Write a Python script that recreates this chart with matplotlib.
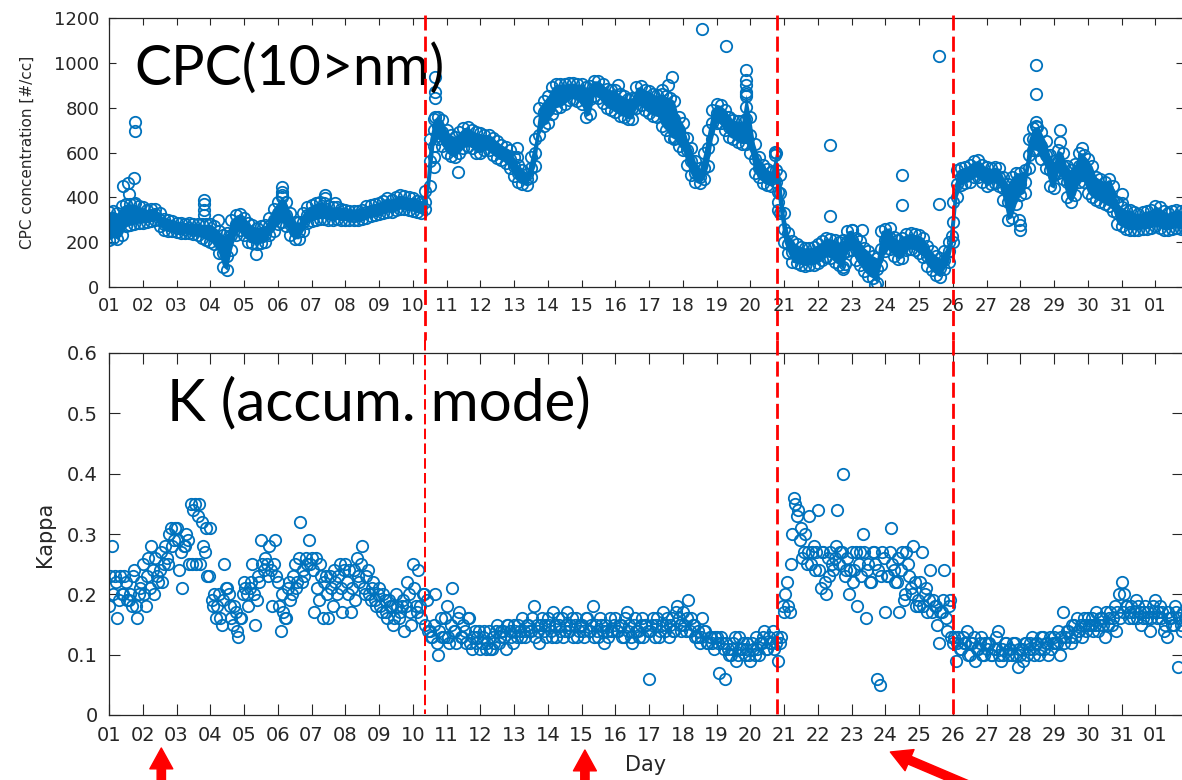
import numpy as np
import matplotlib.pyplot as plt
from matplotlib.lines import Line2D
from matplotlib.transforms import blended_transform_factory

# ---------------------------------------------------------
# CPC concentration band, read every 3 h (8 readings per day, day 1 .. day 32)
# low / middle / high edge of the scatter band [#/cc]
# ---------------------------------------------------------
cpc_mid = [
    270, 270, 265, 290, 310, 320, 320, 320,   # 01
    320, 315, 320, 325, 300, 280, 275, 270,   # 02
    265, 262, 260, 262, 255, 255, 250, 245,   # 03
    240, 230, 200, 150, 140, 230, 280, 295,   # 04
    270, 245, 235, 225, 230, 235, 270, 300,   # 05
    330, 350, 320, 280, 250, 250, 290, 320,   # 06
    330, 340, 345, 340, 330, 325, 330, 325,   # 07
    325, 320, 318, 320, 325, 335, 340, 345,   # 08
    350, 355, 365, 360, 370, 380, 375, 370,   # 09
    370, 360, 355, 380, 560, 700, 720, 690,   # 10
    650, 630, 620, 640, 660, 670, 660, 645,   # 11
    640, 645, 645, 625, 610, 600, 590, 570,   # 12
    540, 510, 490, 480, 530, 600, 740, 780,   # 13
    790, 830, 855, 860, 865, 875, 875, 870,   # 14
    860, 830, 840, 885, 885, 865, 845, 840,   # 15
    830, 815, 805, 795, 800, 845, 855, 835,   # 16
    825, 815, 805, 790, 780, 770, 750, 700,   # 17
    670, 610, 560, 510, 490, 530, 620, 730,   # 18
    775, 770, 745, 715, 700, 690, 690, 750,   # 19
    680, 570, 530, 505, 490, 480, 520, 420,   # 20
    260, 190, 155, 145, 140, 135, 135, 140,   # 21
    145, 160, 175, 170, 160, 150, 150, 200,   # 22
    210, 170, 150, 120, 100, 90, 80, 170,     # 23
    210, 220, 180, 165, 175, 200, 205, 200,   # 24
    190, 175, 140, 115, 95, 85, 120, 160,     # 25
    290, 460, 490, 500, 510, 525, 530, 505,   # 26
    490, 495, 500, 490, 440, 380, 400, 440,   # 27
    460, 470, 590, 660, 660, 630, 590, 520,   # 28
    500, 560, 540, 470, 450, 480, 540, 530,   # 29
    500, 470, 440, 430, 420, 420, 390, 330,   # 30
    310, 300, 300, 295, 290, 295, 300, 305,   # 31
    315, 310, 295, 290, 300, 305, 300, 300,   # 01 (next month)
]
cpc_low = [
    210, 220, 215, 230, 270, 275, 280, 285,
    285, 290, 295, 300, 270, 255, 250, 250,
    245, 242, 240, 240, 235, 232, 220, 210,
    200, 190, 150, 90, 75, 165, 230, 255,
    230, 200, 195, 190, 195, 200, 230, 250,
    280, 290, 270, 230, 215, 215, 250, 285,
    295, 300, 305, 305, 300, 300, 305, 300,
    300, 300, 300, 300, 305, 310, 315, 320,
    325, 330, 335, 335, 345, 350, 350, 345,
    340, 335, 330, 350, 450, 630, 660, 630,
    600, 585, 580, 600, 620, 630, 620, 600,
    600, 610, 610, 590, 575, 565, 555, 530,
    495, 470, 460, 455, 490, 540, 680, 720,
    730, 770, 800, 805, 815, 835, 840, 830,
    815, 760, 770, 850, 845, 820, 800, 790,
    780, 765, 760, 750, 750, 800, 810, 790,
    775, 765, 760, 720, 700, 670, 660, 630,
    610, 545, 500, 470, 465, 480, 540, 660,
    730, 730, 700, 670, 660, 645, 640, 640,
    600, 510, 490, 465, 455, 450, 470, 330,
    200, 150, 110, 105, 100, 95, 100, 100,
    105, 120, 135, 130, 110, 100, 80, 160,
    165, 120, 100, 70, 50, 40, 20, 100,
    160, 170, 140, 125, 130, 165, 170, 165,
    150, 135, 95, 75, 55, 45, 80, 110,
    200, 400, 455, 465, 470, 490, 490, 470,
    450, 460, 465, 450, 390, 300, 310, 370,
    410, 420, 530, 610, 610, 570, 530, 450,
    440, 510, 480, 400, 380, 410, 470, 470,
    420, 400, 390, 380, 370, 360, 340, 280,
    270, 260, 255, 255, 255, 260, 260, 265,
    270, 265, 255, 255, 260, 265, 260, 260,
]
cpc_high = [
    335, 340, 330, 360, 370, 370, 370, 360,
    355, 345, 350, 350, 330, 305, 300, 295,
    285, 285, 282, 285, 280, 280, 280, 280,
    280, 270, 250, 230, 240, 300, 320, 325,
    310, 285, 275, 265, 270, 275, 310, 350,
    380, 400, 380, 330, 290, 290, 330, 355,
    365, 375, 380, 375, 360, 355, 355, 350,
    345, 340, 340, 340, 345, 360, 365, 370,
    375, 385, 395, 390, 400, 410, 405, 400,
    395, 385, 380, 430, 660, 750, 760, 745,
    700, 680, 670, 690, 710, 715, 700, 690,
    685, 680, 680, 665, 650, 635, 625, 610,
    580, 545, 520, 505, 580, 660, 800, 830,
    850, 890, 905, 905, 905, 910, 910, 905,
    905, 890, 895, 920, 920, 905, 885, 880,
    880, 860, 850, 840, 845, 890, 895, 880,
    875, 860, 855, 860, 850, 845, 830, 760,
    730, 665, 620, 560, 530, 600, 700, 790,
    815, 810, 790, 760, 745, 740, 740, 860,
    760, 640, 580, 545, 525, 515, 600, 500,
    330, 240, 205, 190, 180, 175, 175, 180,
    190, 205, 220, 215, 210, 200, 210, 250,
    255, 220, 205, 175, 160, 140, 130, 250,
    260, 265, 225, 210, 220, 235, 240, 235,
    230, 220, 185, 160, 140, 130, 160, 200,
    380, 520, 530, 535, 545, 560, 565, 545,
    535, 530, 535, 530, 490, 460, 490, 510,
    510, 520, 660, 710, 715, 690, 650, 590,
    560, 610, 600, 540, 520, 550, 600, 590,
    570, 540, 490, 480, 470, 480, 450, 380,
    355, 345, 345, 335, 325, 335, 340, 345,
    360, 355, 340, 330, 340, 345, 340, 340,
]

# isolated CPC points off the main band
cpc_out_day = [1.42, 1.57, 1.60, 1.75, 1.77, 1.77, 1.77, 3.80, 3.80, 3.80, 3.80,
               4.24, 5.35, 6.12, 6.12, 6.12, 7.40, 7.40, 7.70, 10.62, 10.62,
               10.66, 10.66, 10.66, 10.66, 11.34, 13.08, 13.08, 16.09, 17.38,
               17.57, 17.67, 17.77, 18.56, 19.27, 19.35, 19.86, 19.86, 19.86,
               19.86, 19.86, 19.86, 20.73, 20.73, 20.83, 20.83, 20.83, 22.36,
               22.36, 22.76, 22.81, 23.01, 23.30, 23.70, 24.49, 24.49, 25.59,
               25.59, 25.97, 27.97, 27.99, 27.99, 28.46, 28.46, 28.46, 28.46,
               29.18, 29.18, 29.82, 31.01, 31.01]
cpc_out_val = [450, 462, 417, 485, 738, 698, 373, 388, 370, 343, 320,
               298, 149, 447, 425, 410, 410, 395, 375, 581, 537,
               939, 872, 842, 760, 514, 619, 581, 902, 880,
               902, 936, 663, 1151, 1076, 760, 969, 924, 902,
               872, 850, 805, 604, 589, 425, 380, 343, 634,
               316, 89, 104, 253, 253, 8, 499, 365, 1029,
               370, 227, 298, 276, 256, 991, 862, 738, 718,
               700, 648, 619, 417, 373]

# ---------------------------------------------------------
# Kappa (accumulation mode): readings on the even hours (kappa_a)
# and on the odd hours (kappa_b), 12 per day each
# ---------------------------------------------------------
kappa_a = [
    0.18, 0.28, 0.23, 0.16, 0.23, 0.20, 0.22, 0.19, 0.18, 0.24, 0.16, 0.21,  # 01
    0.25, 0.18, 0.26, 0.28, 0.20, 0.23, 0.24, 0.22, 0.28, 0.25, 0.31, 0.29,  # 02
    0.31, 0.24, 0.21, 0.28, 0.29, 0.35, 0.34, 0.25, 0.35, 0.32, 0.27, 0.23,  # 03
    0.31, 0.18, 0.16, 0.20, 0.15, 0.25, 0.21, 0.18, 0.15, 0.17, 0.13, 0.16,  # 04
    0.22, 0.20, 0.21, 0.25, 0.15, 0.23, 0.29, 0.24, 0.25, 0.28, 0.18, 0.29,  # 05
    0.22, 0.14, 0.17, 0.16, 0.22, 0.20, 0.25, 0.22, 0.32, 0.24, 0.26, 0.29,  # 06
    0.26, 0.17, 0.21, 0.25, 0.16, 0.23, 0.16, 0.21, 0.24, 0.20, 0.25, 0.17,  # 07
    0.25, 0.20, 0.17, 0.24, 0.26, 0.22, 0.28, 0.20, 0.24, 0.19, 0.22, 0.18,  # 08
    0.21, 0.17, 0.19, 0.16, 0.18, 0.15, 0.20, 0.16, 0.18, 0.14, 0.22, 0.17,  # 09
    0.25, 0.18, 0.24, 0.16, 0.20, 0.19, 0.14, 0.13, 0.20, 0.10, 0.16, 0.13,  # 10
    0.18, 0.12, 0.21, 0.14, 0.16, 0.13, 0.15, 0.12, 0.16, 0.11, 0.14, 0.13,  # 11
    0.11, 0.13, 0.11, 0.14, 0.11, 0.12, 0.15, 0.13, 0.14, 0.11, 0.15, 0.13,  # 12
    0.15, 0.13, 0.14, 0.16, 0.13, 0.15, 0.14, 0.18, 0.15, 0.12, 0.16, 0.15,  # 13
    0.16, 0.14, 0.17, 0.13, 0.15, 0.16, 0.14, 0.17, 0.15, 0.13, 0.16, 0.14,  # 14
    0.15, 0.13, 0.16, 0.14, 0.18, 0.15, 0.13, 0.15, 0.12, 0.14, 0.16, 0.14,  # 15
    0.16, 0.14, 0.15, 0.13, 0.17, 0.15, 0.12, 0.16, 0.14, 0.15, 0.13, 0.15,  # 16
    0.06, 0.15, 0.13, 0.16, 0.14, 0.17, 0.15, 0.13, 0.16, 0.14, 0.18, 0.15,  # 17
    0.17, 0.14, 0.19, 0.16, 0.15, 0.13, 0.12, 0.16, 0.14, 0.12, 0.13, 0.11,  # 18
    0.13, 0.07, 0.12, 0.06, 0.11, 0.10, 0.12, 0.09, 0.13, 0.11, 0.10, 0.12,  # 19
    0.09, 0.11, 0.13, 0.10, 0.12, 0.14, 0.11, 0.12, 0.14, 0.12, 0.09, 0.13,  # 20
    0.17, 0.22, 0.17, 0.30, 0.35, 0.34, 0.31, 0.27, 0.25, 0.33, 0.27, 0.24,  # 21
    0.34, 0.21, 0.27, 0.20, 0.23, 0.25, 0.26, 0.34, 0.27, 0.40, 0.24, 0.20,  # 22
    0.27, 0.24, 0.18, 0.27, 0.30, 0.16, 0.25, 0.22, 0.27, 0.06, 0.05, 0.27,  # 23
    0.17, 0.23, 0.31, 0.24, 0.22, 0.17, 0.27, 0.20, 0.25, 0.21, 0.28, 0.18,  # 24
    0.18, 0.27, 0.20, 0.17, 0.24, 0.19, 0.18, 0.12, 0.17, 0.24, 0.14, 0.19,  # 25
    0.12, 0.09, 0.13, 0.11, 0.12, 0.14, 0.10, 0.12, 0.09, 0.11, 0.13, 0.10,  # 26
    0.11, 0.12, 0.10, 0.11, 0.14, 0.09, 0.10, 0.12, 0.11, 0.10, 0.12, 0.08,  # 27
    0.10, 0.09, 0.12, 0.11, 0.13, 0.10, 0.12, 0.11, 0.13, 0.12, 0.10, 0.11,  # 28
    0.13, 0.12, 0.10, 0.17, 0.13, 0.14, 0.12, 0.15, 0.16, 0.14, 0.13, 0.15,  # 29
    0.16, 0.15, 0.14, 0.17, 0.15, 0.16, 0.13, 0.15, 0.17, 0.16, 0.14, 0.20,  # 30
    0.22, 0.20, 0.18, 0.17, 0.16, 0.19, 0.18, 0.15, 0.17, 0.16, 0.14, 0.18,  # 31
    0.19, 0.17, 0.16, 0.14, 0.13, 0.16, 0.15, 0.18, 0.08, 0.15, 0.17, 0.16,  # 01
]
kappa_b = [
    0.23, 0.20, 0.22, 0.19, 0.20, 0.23, 0.19, 0.20, 0.23, 0.18, 0.20, 0.22,  # 01
    0.20, 0.23, 0.21, 0.24, 0.26, 0.22, 0.27, 0.25, 0.26, 0.30, 0.28, 0.31,  # 02
    0.29, 0.27, 0.28, 0.30, 0.25, 0.25, 0.35, 0.33, 0.25, 0.28, 0.31, 0.23,  # 03
    0.19, 0.20, 0.18, 0.16, 0.19, 0.21, 0.20, 0.16, 0.18, 0.14, 0.16, 0.20,  # 04
    0.21, 0.18, 0.22, 0.20, 0.19, 0.22, 0.25, 0.26, 0.23, 0.24, 0.25, 0.23,  # 05
    0.18, 0.20, 0.16, 0.21, 0.19, 0.23, 0.21, 0.26, 0.22, 0.23, 0.25, 0.25,  # 06
    0.24, 0.26, 0.19, 0.23, 0.22, 0.20, 0.23, 0.18, 0.22, 0.23, 0.21, 0.24,  # 07
    0.22, 0.24, 0.21, 0.19, 0.23, 0.25, 0.21, 0.23, 0.20, 0.21, 0.19, 0.20,  # 08
    0.18, 0.20, 0.17, 0.19, 0.18, 0.16, 0.18, 0.17, 0.19, 0.18, 0.20, 0.15,  # 09
    0.21, 0.17, 0.18, 0.20, 0.15, 0.14, 0.13, 0.15, 0.12, 0.14, 0.13, 0.16,  # 10
    0.13, 0.15, 0.14, 0.12, 0.17, 0.13, 0.14, 0.16, 0.12, 0.13, 0.12, 0.14,  # 11
    0.12, 0.14, 0.12, 0.11, 0.13, 0.14, 0.12, 0.14, 0.13, 0.15, 0.14, 0.12,  # 12
    0.14, 0.15, 0.13, 0.14, 0.15, 0.14, 0.16, 0.13, 0.14, 0.15, 0.14, 0.13,  # 13
    0.15, 0.13, 0.15, 0.16, 0.14, 0.13, 0.15, 0.14, 0.16, 0.15, 0.13, 0.15,  # 14
    0.14, 0.16, 0.14, 0.15, 0.13, 0.14, 0.16, 0.14, 0.15, 0.13, 0.14, 0.15,  # 15
    0.14, 0.15, 0.13, 0.16, 0.14, 0.13, 0.15, 0.14, 0.13, 0.16, 0.15, 0.14,  # 16
    0.14, 0.16, 0.15, 0.13, 0.15, 0.14, 0.16, 0.15, 0.14, 0.17, 0.16, 0.14,  # 17
    0.15, 0.16, 0.14, 0.15, 0.13, 0.14, 0.13, 0.14, 0.12, 0.13, 0.12, 0.13,  # 18
    0.12, 0.13, 0.11, 0.12, 0.10, 0.11, 0.13, 0.10, 0.11, 0.12, 0.11, 0.10,  # 19
    0.12, 0.10, 0.11, 0.12, 0.13, 0.11, 0.13, 0.12, 0.11, 0.13, 0.12, 0.18,  # 20
    0.20, 0.18, 0.25, 0.36, 0.33, 0.29, 0.26, 0.30, 0.27, 0.25, 0.28, 0.27,  # 21
    0.24, 0.27, 0.22, 0.26, 0.27, 0.24, 0.28, 0.25, 0.27, 0.23, 0.26, 0.24,  # 22
    0.22, 0.27, 0.25, 0.23, 0.27, 0.24, 0.22, 0.27, 0.25, 0.24, 0.23, 0.26,  # 23
    0.23, 0.27, 0.25, 0.22, 0.26, 0.24, 0.19, 0.27, 0.23, 0.20, 0.22, 0.19,  # 24
    0.22, 0.18, 0.21, 0.19, 0.17, 0.18, 0.15, 0.17, 0.19, 0.16, 0.18, 0.13,  # 25
    0.13, 0.12, 0.11, 0.13, 0.12, 0.10, 0.12, 0.13, 0.11, 0.12, 0.10, 0.12,  # 26
    0.12, 0.10, 0.11, 0.13, 0.10, 0.11, 0.12, 0.10, 0.11, 0.12, 0.10, 0.11,  # 27
    0.11, 0.12, 0.10, 0.12, 0.11, 0.12, 0.10, 0.13, 0.11, 0.12, 0.13, 0.12,  # 28
    0.12, 0.14, 0.13, 0.12, 0.14, 0.13, 0.15, 0.13, 0.14, 0.15, 0.16, 0.14,  # 29
    0.15, 0.16, 0.15, 0.14, 0.16, 0.15, 0.17, 0.16, 0.15, 0.18, 0.17, 0.16,  # 30
    0.17, 0.18, 0.16, 0.18, 0.17, 0.16, 0.17, 0.16, 0.18, 0.17, 0.16, 0.17,  # 31
    0.16, 0.18, 0.17, 0.15, 0.17, 0.16, 0.15, 0.17, 0.16, 0.14, 0.16, 0.15,  # 01
]

# days marked with red dashed lines, and days the red arrows point at
event_days = [10.36, 20.78, 26.0]
arrow_days = [2.55, 15.1, 24.15]

tick_days = list(range(1, 33))
tick_labels = ["%02d" % (((d - 1) % 31) + 1) for d in tick_days]

cpc_yticks = [0, 200, 400, 600, 800, 1000, 1200]
kappa_yticks = [0, 0.1, 0.2, 0.3, 0.4, 0.5, 0.6]
kappa_ylabels = ["0", "0.1", "0.2", "0.3", "0.4", "0.5", "0.6"]

BLUE = '#0072BD'
GREY = '#262626'
W, H = 1182, 780


def style_axis(ax, fs, ticklen, pad):
    ax.set_xlim(1, 32.82)
    ax.set_xticks(tick_days)
    ax.set_xticklabels(tick_labels)
    ax.tick_params(direction='in', top=True, right=True, length=ticklen,
                   width=0.8, colors=GREY, labelsize=fs, pad=pad)
    for s in ax.spines.values():
        s.set_color(GREY)
        s.set_linewidth(0.9)


def main():
    fig = plt.figure(figsize=(W / 100, H / 100), dpi=100)

    ax1 = fig.add_axes([109 / W, 1 - 287 / H, 1074 / W, 269 / H])
    ax2 = fig.add_axes([109 / W, 1 - 715 / H, 1074 / W, 362 / H])

    mk = dict(ls='none', marker='o', mfc='none', mec=BLUE, ms=8.2, mew=1.3)

    # top: CPC -- the band is so dense the circles merge, so shade between edges
    cpc_day = 1 + np.arange(len(cpc_mid)) / 8.0
    ax1.fill_between(cpc_day, cpc_low, cpc_high, color=BLUE, lw=0)
    for band in (cpc_low, cpc_mid, cpc_high):
        ax1.plot(cpc_day, band, **mk)
    ax1.plot(cpc_out_day, cpc_out_val, **mk)
    ax1.set_ylim(0, 1200)
    ax1.set_yticks(cpc_yticks)
    style_axis(ax1, 13, 5, 7)
    ax1.set_ylabel("CPC concentration [#/cc]", fontsize=11, color=GREY)
    ax1.yaxis.set_label_coords(-0.069, 0.5)
    ax1.text(0.024, 0.751, "CPC(10>nm)", transform=ax1.transAxes,
             fontsize=40, family='Lato', va='baseline', color='black')

    # bottom: Kappa
    kappa_day_a = 1 + np.arange(len(kappa_a)) / 12.0
    kappa_day_b = kappa_day_a + 1 / 24.0
    ax2.plot(kappa_day_a, kappa_a, **mk)
    ax2.plot(kappa_day_b, kappa_b, **mk)
    ax2.set_ylim(0, 0.6)
    ax2.set_yticks(kappa_yticks)
    ax2.set_yticklabels(kappa_ylabels)
    style_axis(ax2, 14, 8, 8)
    ax2.set_ylabel("Kappa", fontsize=15, color=GREY)
    ax2.yaxis.set_label_coords(-0.05, 0.5)
    ax2.set_xlabel("Day", fontsize=15, color=GREY)
    ax2.xaxis.set_label_coords(0.5, -0.11)
    ax2.text(0.054, 0.815, "K (accum. mode)", transform=ax2.transAxes,
             fontsize=42, family='Lato', va='baseline', color='black')

    # red dashed event lines running through both panels
    trans = blended_transform_factory(ax2.transData, fig.transFigure)
    for i, d in enumerate(event_days):
        lw_low = 1.4 if i == 0 else 2.0
        fig.add_artist(Line2D([d, d], [1 - 15 / H, 1 - 340 / H], transform=trans,
                              color='red', lw=2.0, ls=(0, (5.4, 2.2))))
        fig.add_artist(Line2D([d, d], [1 - 340 / H, 1 - 714 / H], transform=trans,
                              color='red', lw=lw_low, ls=(0, (5.4, 2.2))))

    # red arrows under the day axis
    tips = [32, 30, 28]
    tails = [(0, -45), (0, -45), (80, -34)]
    for d, ty, off in zip(arrow_days, tips, tails):
        ax2.annotate('', xy=(d, ty), xycoords=('data', 'figure pixels'),
                     xytext=off, textcoords='offset pixels',
                     annotation_clip=False,
                     arrowprops=dict(arrowstyle='simple,head_length=0.5,head_width=0.55,tail_width=0.2',
                                     color='red', mutation_scale=30,
                                     shrinkA=0, shrinkB=0))

    fig.savefig('out.png', dpi=100)
    plt.close(fig)


if __name__ == "__main__":
    main()
